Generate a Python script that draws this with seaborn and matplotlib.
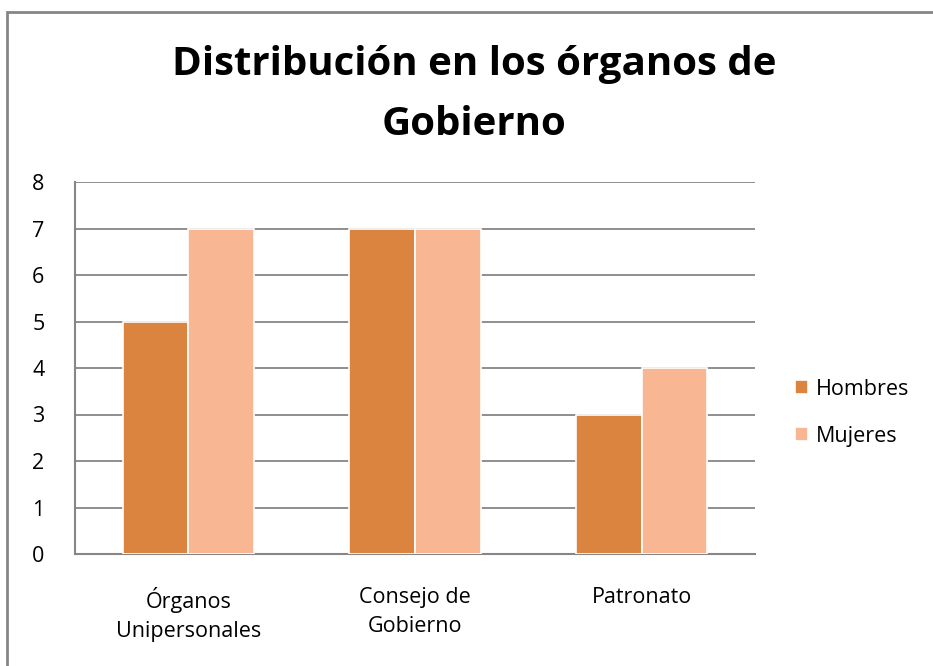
import matplotlib
matplotlib.use("Agg")
import matplotlib.pyplot as plt
import pandas as pd
import seaborn as sns
from matplotlib.patches import Rectangle

categories = ["Órganos\nUnipersonales", "Consejo de\nGobierno", "Patronato"]
hombres = [5, 7, 3]
mujeres = [7, 7, 4]
series = ["Hombres", "Mujeres"]
colors = ["#DA843F", "#F8B692"]
yticks = list(range(0, 9))

df = pd.DataFrame({
    "categoria": categories * 2,
    "valor": hombres + mujeres,
    "serie": [series[0]] * 3 + [series[1]] * 3,
})

sns.set_style("white")
plt.rcParams["font.family"] = ["Open Sans", "DejaVu Sans"]
plt.rcParams["text.color"] = "black"
plt.rcParams["xtick.labelcolor"] = "black"
plt.rcParams["ytick.labelcolor"] = "black"

fig = plt.figure(figsize=(9.33, 6.66), dpi=100)
ax = fig.add_axes([75 / 933, 112 / 666, 680 / 933, 372 / 666])

sns.barplot(data=df, x="categoria", y="valor", hue="serie", order=categories,
            hue_order=series, palette=colors, width=0.58, saturation=1,
            edgecolor="white", linewidth=1.2, ax=ax, zorder=3)

ax.set_ylim(0, 8)
ax.set_xlim(-0.5, 2.5)
ax.set_yticks(yticks)
ax.set_yticklabels([str(t) for t in yticks], fontsize=15.5)
ax.tick_params(axis="y", length=8, color="#868686", width=1.3, pad=14,
               direction="out", labelcolor="black")
ax.tick_params(axis="x", length=0, pad=24, labelcolor="black")
for lbl in ax.get_xticklabels():
    lbl.set_fontsize(15.5)
    lbl.set_linespacing(1.45)
ax.set_xlabel("")
ax.set_ylabel("")
ax.grid(axis="y", color="#868686", linewidth=1.3, zorder=0)
for side in ["top", "right"]:
    ax.spines[side].set_visible(False)
for side in ["left", "bottom"]:
    ax.spines[side].set_color("#868686")
    ax.spines[side].set_linewidth(1.5)

leg = ax.legend(loc="center left", bbox_to_anchor=(1.03, 0.38), frameon=False,
                fontsize=15.5, handlelength=0.6, handleheight=0.6,
                handletextpad=0.4, labelspacing=1.2)
for t in leg.get_texts():
    t.set_color("black")

fig.text(0.508, 0.858, "Distribución en los órganos de\nGobierno", ha="center",
         va="center", fontsize=29, fontweight="bold", linespacing=1.68,
         color="black")

# chart frame
fig.patches.append(Rectangle((7 / 933, -0.1), 1.2, 1.1 - 12 / 666,
                             transform=fig.transFigure, fill=False,
                             edgecolor="#868686", linewidth=2))

fig.savefig("out.png", dpi=100)
